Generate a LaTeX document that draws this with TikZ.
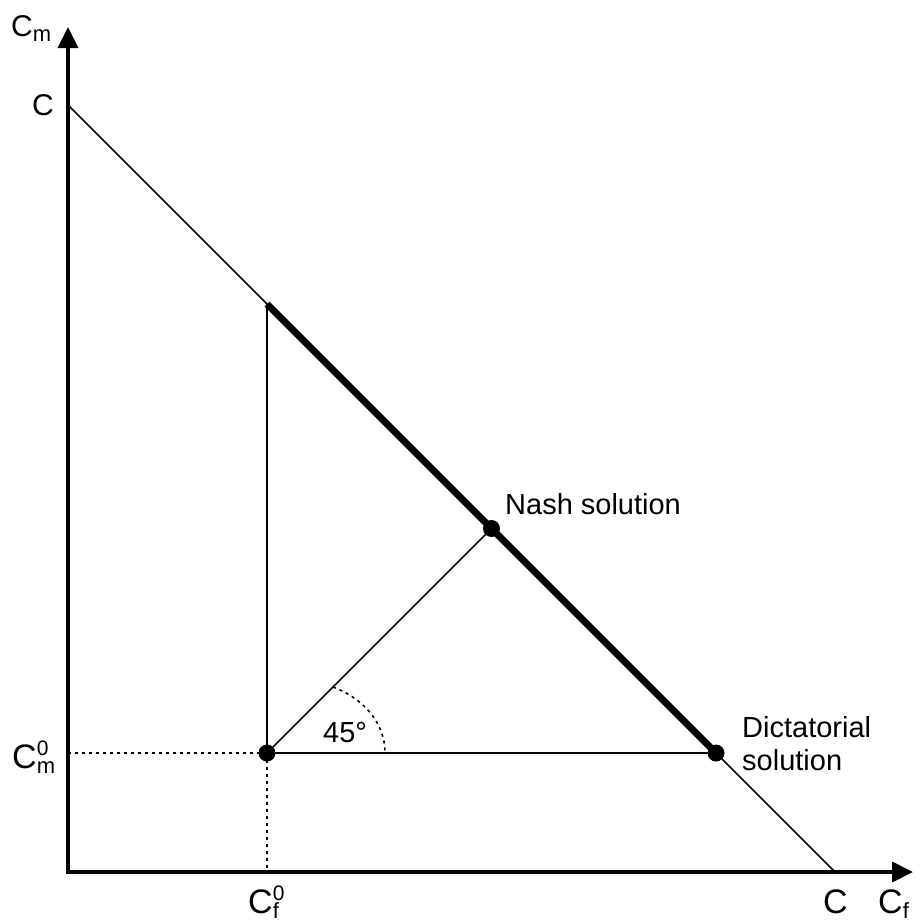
\documentclass[tikz,border=0pt]{standalone}
\usepackage{fontspec}
\setmainfont{Liberation Sans}
\usetikzlibrary{arrows.meta}
\newcommand{\lsub}[1]{\raisebox{-5pt}{\fontsize{22}{22}\selectfont #1}}
\newcommand{\lsup}[1]{\raisebox{13pt}{\fontsize{21}{21}\selectfont #1}}
\newcommand{\lsubsup}[2]{\rlap{\lsup{#2}}\lsub{#1}}
\tikzset{
  axisline/.style={line width=4pt, line join=miter, {Triangle[length=21pt,width=20pt]}-{Triangle[length=21pt,width=20pt]}},
  thinline/.style={line width=1.5pt},
  thickline/.style={line width=7pt},
  dotline/.style={line width=1.6pt, dash pattern=on 3pt off 4pt},
  dot/.style={circle, fill=black, inner sep=0pt, minimum size=17pt},
  lbl/.style={inner sep=0pt, font=\fontsize{29}{33}\selectfont},
  clbl/.style={inner sep=0pt, font=\fontsize{30}{34}\selectfont},
  cbig/.style={inner sep=0pt, font=\fontsize{34}{38}\selectfont}
}
\begin{document}
\begin{tikzpicture}[x=1pt,y=-1pt]
\useasboundingbox (0,0) rectangle (921,922);
\coordinate (O) at (68,872);
\coordinate (Ytip) at (68,27);
\coordinate (Xtip) at (913,872);
\coordinate (Cy) at (68,105);
\coordinate (Cx) at (835,872);
\coordinate (Top) at (267,304);
\coordinate (Ax) at (267,872);
\coordinate (Ay) at (68,753);
\coordinate (ArcA) at (333,687);
\coordinate (ArcB) at (385,753);
\node[dot] (P0) at (267,753) {};
\node[dot] (Nash) at (491.5,528.5) {};
\node[dot] (Dict) at (716,753) {};
% axes
\draw[axisline] (Ytip) -- (O) -- (Xtip);
% budget line
\draw[thinline] (Cy) -- (Cx);
\draw[thickline] (Top) -- (Dict.center);
% construction lines
\draw[thinline] (P0.center) -- (Top);
\draw[thinline] (P0.center) -- (Dict.center);
\draw[thinline] (P0.center) -- (Nash.center);
\draw[dotline] (Ay) -- (P0.center);
\draw[dotline] (P0.center) -- (Ax);
\draw[dotline] (ArcA) .. controls (360,697) and (385,720) .. (ArcB);
% labels
\node[clbl, anchor=base west] (LCm) at (11,36) {C\lsub{m}};
\node[clbl, anchor=base east] (LCy) at (54,115) {C};
\node[cbig, anchor=base west] (LCm0) at (12,768) {C\lsubsup{m}{0}};
\node[cbig, anchor=base west] (LCf0) at (248,913) {C\lsubsup{f}{0}};
\node[cbig, anchor=base west] (LCx) at (823,913) {C};
\node[cbig, anchor=base west] (LCf) at (878,913) {C\lsub{f}};
\node[lbl, anchor=base west] (L45) at (323,742) {45°};
\node[lbl, anchor=base west] (LNash) at (505,514) {Nash solution};
\node[lbl, anchor=north west, align=left] (LDict) at (742,716) {Dictatorial\\solution};
\end{tikzpicture}
\end{document}
